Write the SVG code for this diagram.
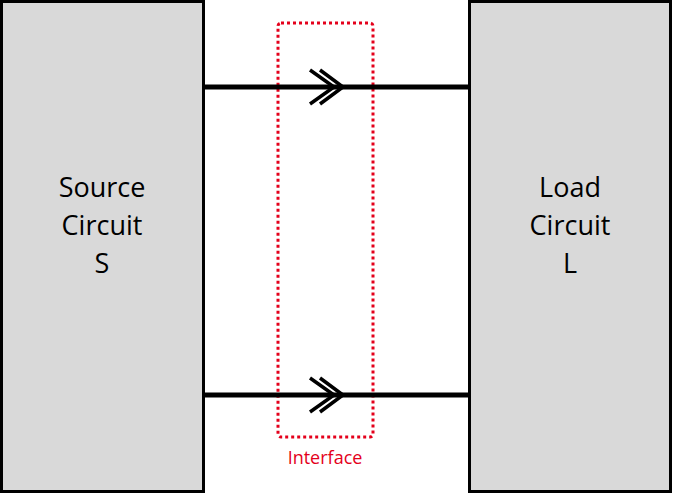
<svg xmlns="http://www.w3.org/2000/svg" width="673" height="493" viewBox="0 0 673 493">
<style>
.box{fill:#d9d9d9;stroke:#000;stroke-width:3}
.lbl{font-family:"Open Sans","Liberation Sans",Arial,sans-serif;font-size:27px;fill:#000;text-anchor:middle}
.wire{stroke:#000;stroke-width:5;fill:none}
.chev{stroke:#000;stroke-width:3.5;fill:none}
.iface{fill:none;stroke:#e4001b;stroke-width:3;stroke-dasharray:3 3}
.ilbl{font-family:"Open Sans","Liberation Sans",Arial,sans-serif;font-size:18px;fill:#e4001b;text-anchor:middle}
</style>
<rect width="673" height="493" fill="#fff"/>
<g id="source">
<rect class="box" x="1.5" y="1.5" width="202" height="490"/>
<text class="lbl" x="102" y="197">Source</text>
<text class="lbl" x="102" y="235">Circuit</text>
<text class="lbl" x="102" y="273">S</text>
</g>
<g id="load">
<rect class="box" x="469.5" y="1.5" width="201" height="490"/>
<text class="lbl" x="570" y="197">Load</text>
<text class="lbl" x="570" y="235">Circuit</text>
<text class="lbl" x="570" y="273">L</text>
</g>
<g id="interface">
<rect class="iface" x="278" y="23" width="95" height="414" rx="3"/>
<text class="ilbl" x="325" y="464">Interface</text>
</g>
<g id="connectors">
<line class="wire" x1="203" y1="87" x2="470" y2="87"/>
<line class="wire" x1="203" y1="395" x2="470" y2="395"/>
<path class="chev" d="M310,70 L334,87 L310,104 M320,70 L343,87 L320,104"/>
<path class="chev" d="M310,378 L334,395 L310,412 M320,378 L343,395 L320,412"/>
</g>
</svg>
